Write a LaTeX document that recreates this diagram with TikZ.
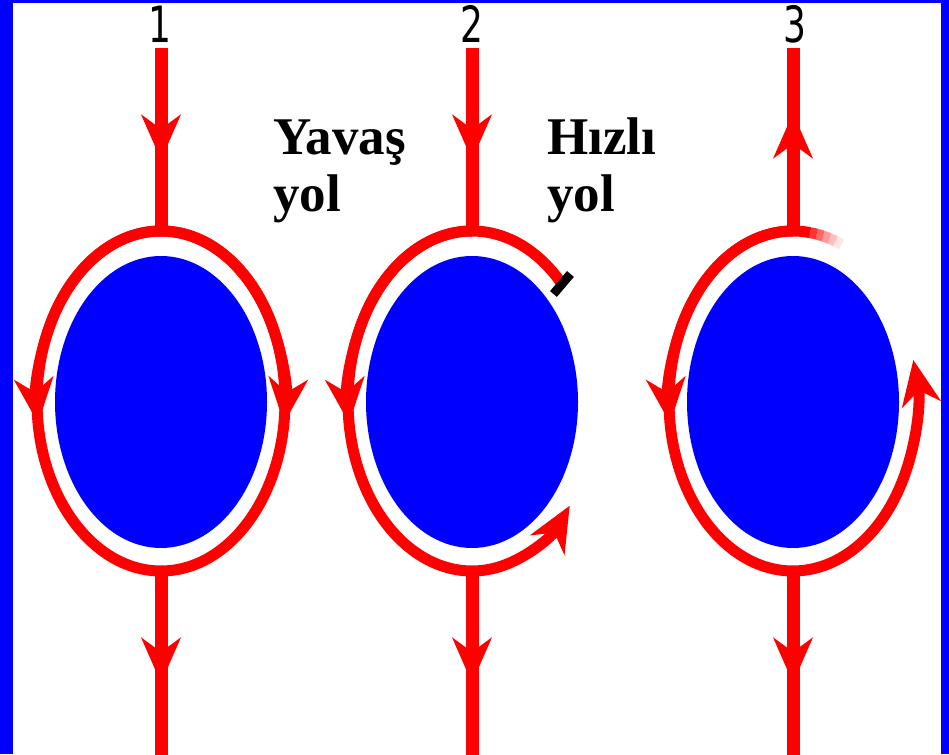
\documentclass[tikz,border=0pt]{standalone}
\usepackage{fontspec}
\newfontfamily\serifbold{Liberation Serif}
\newfontfamily\digitfont{DejaVu Sans}
\usetikzlibrary{arrows.meta}
\definecolor{ringred}{RGB}{255,0,0}
\definecolor{cellblue}{RGB}{0,0,255}
\begin{document}
\begin{tikzpicture}[x=1pt,y=1pt,
  flow/.style={draw=ringred, line width=13pt},
  loop/.style={draw=ringred, line width=11pt},
  head/.style={-{Stealth[length=45pt,width=39pt,inset=14pt]}},
  ringarc/.style={x radius=124, y radius=170},
  cell/.style={fill=cellblue},
  num/.style={font=\digitfont\fontsize{50}{50}\selectfont, inner sep=0pt},
  lbl/.style={font=\serifbold\bfseries\fontsize{53}{57}\selectfont, align=left, inner sep=0pt, anchor=base west}]
% frame
\fill[cellblue] (0,0) rectangle (949,754);
\fill[white] (13,0) rectangle (941,751);
\useasboundingbox (0,0) rectangle (949,754);

% ---------- panel 1 ----------
\fill[cell] (161,352) ellipse [x radius=106, y radius=146];
\coordinate (in1) at (161,706);
\coordinate (h1) at (161,594);
\coordinate (top1) at (161,523);
\coordinate (bot1) at (161,183);
\coordinate (g1) at (161,71);
\coordinate (out1) at (161,-8);
\node[num] (n1) at (160,730) {\scalebox{0.72}[1]{1}};
\draw[flow] (in1) -- (top1);
\draw[flow,head] (in1) -- (h1);
\draw[loop] (161,353) ellipse [ringarc];
\draw[loop,head] (top1) arc[start angle=90, end angle=187.5, ringarc];
\draw[loop,head] (top1) arc[start angle=90, end angle=-7.5, ringarc];
\draw[flow] (bot1) -- (out1);
\draw[flow,head] (bot1) -- (g1);

% ---------- panel 2 ----------
\fill[cell] (472,352) ellipse [x radius=106, y radius=146];
\coordinate (in2) at (472,706);
\coordinate (h2) at (472,594);
\coordinate (top2) at (472,523);
\coordinate (bot2) at (472,183);
\coordinate (g2) at (472,71);
\coordinate (out2) at (472,-8);
\node[num] (n2) at (472,730) {\scalebox{0.72}[1]{2}};
\draw[flow] (in2) -- (top2);
\draw[flow,head] (in2) -- (h2);
\path (472,353) ++(44:124 and 170) coordinate (s2);
\draw[loop,head] (s2) arc[start angle=44, end angle=322, ringarc];
\draw[loop,head] (top2) arc[start angle=90, end angle=187.5, ringarc];
\path (472,353) ++(43.5:124 and 170) coordinate (gate);
\draw[black, line width=9pt] (gate) ++(-8.5,-10) -- ++(17,20);
\draw[flow] (bot2) -- (out2);
\draw[flow,head] (bot2) -- (g2);

% ---------- panel 3 ----------
\fill[cell] (793,352) ellipse [x radius=106, y radius=146];
\coordinate (in3) at (793,706);
\coordinate (h3) at (793,641);
\coordinate (top3) at (793,523);
\coordinate (bot3) at (793,183);
\coordinate (g3) at (793,71);
\coordinate (out3) at (793,-8);
\node[num] (n3) at (795,730) {\scalebox{0.72}[1]{3}};
\draw[flow] (top3) -- (in3);
\draw[flow,head] (top3) -- (h3);
\draw[loop,head] (top3) arc[start angle=90, end angle=374, ringarc];
\draw[loop,head] (top3) arc[start angle=90, end angle=187.5, ringarc];
\draw[loop] (top3) arc[start angle=90, end angle=82, ringarc];
\foreach \a/\o in {82/0.8, 79/0.6, 76/0.4, 73/0.25, 70/0.1}{
  \draw[loop, draw opacity=\o] (793,353) ++(\a:124 and 170)
    arc[start angle=\a, end angle=\a-3, ringarc];
}
\draw[flow] (bot3) -- (out3);
\draw[flow,head] (bot3) -- (g3);

% ---------- labels (anchored on the baseline of the lower line) ----------
\node[lbl] (slow) at (273,542) {Yavaş\\yol};
\node[lbl] (fast) at (547,542) {Hızlı\\yol};
\end{tikzpicture}
\end{document}
